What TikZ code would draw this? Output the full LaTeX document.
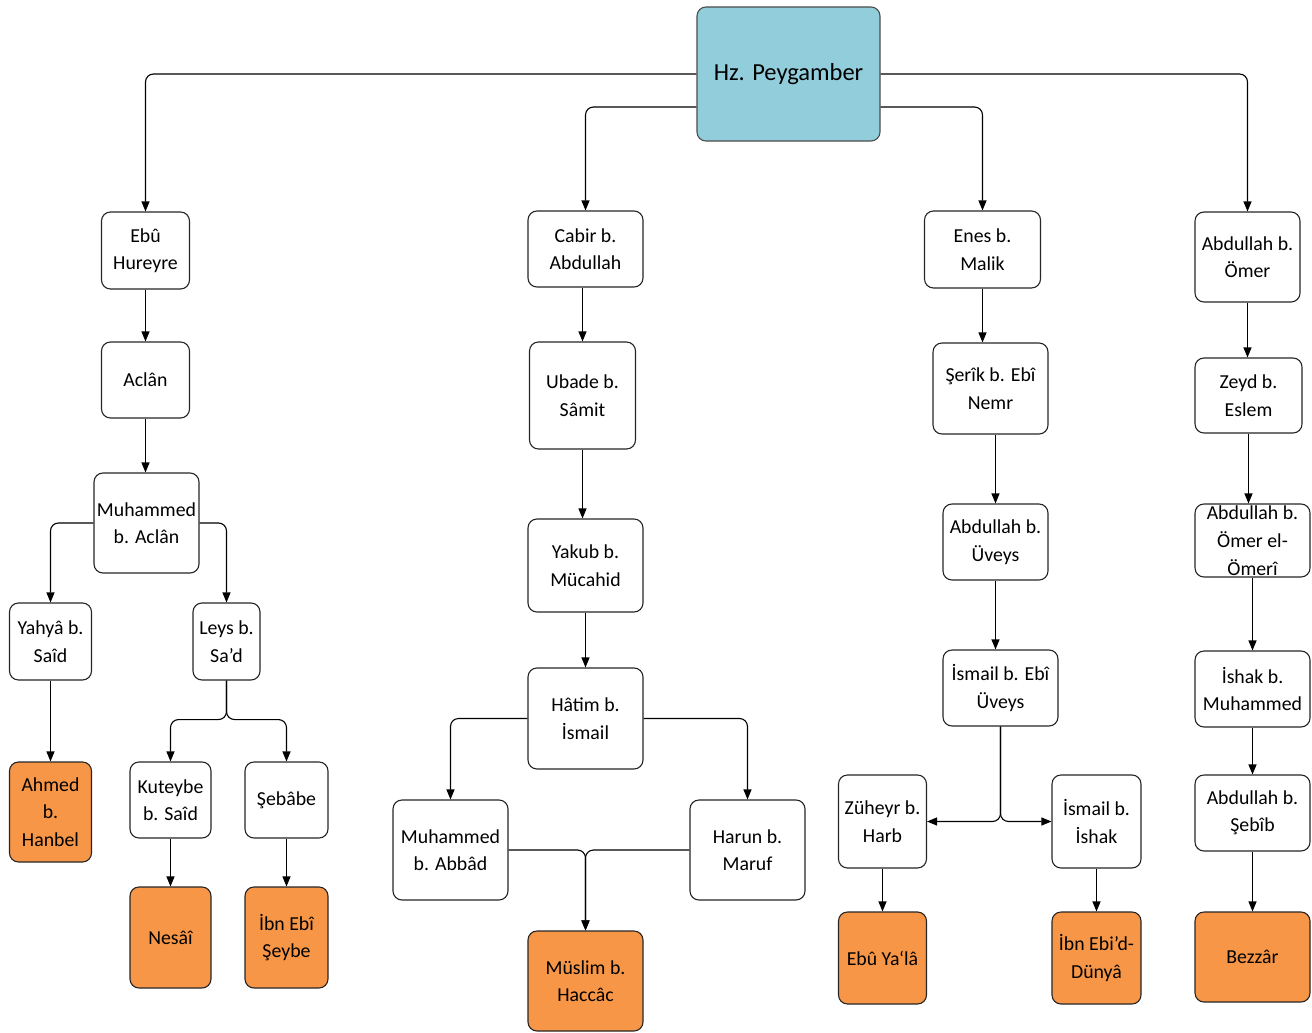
\documentclass[tikz,border=0pt]{standalone}
\usepackage{fontspec}
\setmainfont{Carlito}
\usetikzlibrary{arrows.meta}
\definecolor{hpblue}{HTML}{92CDDC}
\definecolor{leaforange}{HTML}{F79646}

\begin{document}
\begin{tikzpicture}[x=1pt,y=-1pt,
  box/.style={draw=black!85, line width=1.1pt, rounded corners=9pt, fill=white, align=center,
    inner sep=1pt, font=\fontsize{19.8}{27.5}\selectfont},
  sz/.style 2 args={minimum width=#1pt, minimum height=#2pt},
  leaf/.style={box, fill=leaforange},
  arr/.style={line width=1.1pt, rounded corners=8pt, -{Triangle[length=10pt,width=8pt]}}]
\useasboundingbox (0,0) rectangle (1312,1033);
% root
\node[box, fill=hpblue, draw=black!70, sz={183}{134}, font=\fontsize{24.5}{30}\selectfont] (hp) at (788.5,74) {Hz. Peygamber};
% Ebu Hureyre branch
\node[box, sz={88}{77}] (eb) at (145.5,250.5) {Ebû\\Hureyre};
\node[box, sz={88}{76}] (aclan) at (145.5,380) {Aclân};
\node[box, sz={105}{100}] (mba) at (146.5,523) {Muhammed\\b. Aclân};
\node[box, sz={82}{77}] (yahya) at (50.5,641.5) {Yahyâ b.\\Saîd};
\node[box, sz={67}{77}] (leys) at (226.5,641.5) {Leys b.\\Sa’d};
\node[leaf, sz={82}{100}] (ahmed) at (50.5,812) {Ahmed\\b.\\Hanbel};
\node[box, sz={81}{76}] (kuteybe) at (170.5,800) {Kuteybe\\b. Saîd};
\node[box, sz={83}{76}] (sebabe) at (286.5,800) {Şebâbe};
\node[leaf, sz={81}{101}] (nesai) at (170.5,937.5) {Nesâî};
\node[leaf, sz={83}{101}] (ibnebi) at (286.5,937.5) {İbn Ebî\\Şeybe};
% Cabir branch
\node[box, sz={115}{76}] (cabir) at (585.5,249) {Cabir b.\\Abdullah};
\node[box, sz={106}{107}] (ubade) at (582.5,395.5) {Ubade b.\\Sâmit};
\node[box, sz={115}{93}] (yakub) at (585.5,565.5) {Yakub b.\\Mücahid};
\node[box, sz={115}{101}] (hatim) at (585.5,718.5) {Hâtim b.\\İsmail};
\node[box, sz={115}{100}] (abbad) at (450.5,850) {Muhammed\\b. Abbâd};
\node[box, sz={115}{100}] (harun) at (747.5,850) {Harun b.\\Maruf};
\node[leaf, sz={115}{100}] (muslim) at (585.5,981) {Müslim b.\\Haccâc};
% Enes branch
\node[box, sz={116}{77}] (enes) at (982.5,249.5) {Enes b.\\Malik};
\node[box, sz={115}{91}] (serik) at (990.5,388.5) {Şerîk b. Ebî\\Nemr};
\node[box, sz={105}{76}] (auveys) at (995.5,542) {Abdullah b.\\Üveys};
\node[box, sz={115}{76}] (ismail) at (1000.5,688) {İsmail b. Ebî\\Üveys};
\node[box, sz={88}{93}] (zuheyr) at (882.5,821.5) {Züheyr b.\\Harb};
\node[box, sz={89}{93}] (ishak) at (1096.5,821.5) {İsmail b.\\İshak};
\node[leaf, sz={88}{92}] (ebuyala) at (882.5,958) {Ebû Ya‘lâ};
\node[leaf, sz={89}{92}] (dunya) at (1096.5,958) {İbn Ebi’d-\\Dünyâ};
% Abdullah b. Omer branch
\node[box, sz={105}{90}] (abomer) at (1247.5,257) {Abdullah b.\\Ömer};
\node[box, sz={107}{75}] (zeyd) at (1248.5,395.5) {Zeyd b.\\Eslem};
\node[box, sz={115}{73}] (omeri) at (1252.5,540.5) {};
\node[align=center, inner sep=0pt, font=\fontsize{19.8}{28}\selectfont] (omeritxt) at (omeri) {Abdullah b.\\Ömer el-\\Ömerî};
\node[box, sz={115}{76}] (ishakm) at (1252.5,689) {İshak b.\\Muhammed};
\node[box, sz={115}{76}] (sebib) at (1252.5,813) {Abdullah b.\\Şebîb};
\node[leaf, sz={115}{90}] (bezzar) at (1252.5,957) {Bezzâr};

% connectors from the root
\draw[arr] (hp.west) -| (eb.north);
\draw[arr] ([yshift=-33pt]hp.west) -| (cabir.north);
\draw[arr] ([yshift=-33pt]hp.east) -| (enes.north);
\draw[arr] (hp.east) -| (abomer.north);
% left
\draw[arr] (eb) -- (aclan);
\draw[arr] (aclan.south) -- (aclan.south |- mba.north);
\draw[arr] (mba.west) -| (yahya.north);
\draw[arr] (mba.east) -| (leys.north);
\draw[arr] (yahya) -- (ahmed);
\draw[arr] (leys.south) -- ++(0,39) -| (kuteybe.north);
\draw[arr] (leys.south) -- ++(0,39) -| (sebabe.north);
\draw[arr] (kuteybe) -- (nesai);
\draw[arr] (sebabe) -- (ibnebi);
% middle
\draw[arr] (cabir.south -| ubade.north) -- (ubade.north);
\draw[arr] (ubade.south) -- (ubade.south |- yakub.north);
\draw[arr] (yakub) -- (hatim);
\draw[arr] (hatim.west) -| (abbad.north);
\draw[arr] (hatim.east) -| (harun.north);
\draw[arr] (abbad.east) -| (muslim.north);
\draw[arr] (harun.west) -| (muslim.north);
% Enes
\draw[arr] (enes.south) -- (enes.south |- serik.north);
\draw[arr] (auveys.north |- serik.south) -- (auveys.north);
\draw[arr] (auveys.south) -- (auveys.south |- ismail.north);
\draw[arr] (ismail.south) |- (zuheyr.east);
\draw[arr] (ismail.south) |- (ishak.west);
\draw[arr] (zuheyr) -- (ebuyala);
\draw[arr] (ishak) -- (dunya);
% right
\draw[arr] (abomer.south) -- (abomer.south |- zeyd.north);
\draw[arr] (zeyd.south) -- (zeyd.south |- omeri.north);
\draw[arr] (omeri) -- (ishakm);
\draw[arr] (ishakm) -- (sebib);
\draw[arr] (sebib) -- (bezzar);
\end{tikzpicture}
\end{document}
